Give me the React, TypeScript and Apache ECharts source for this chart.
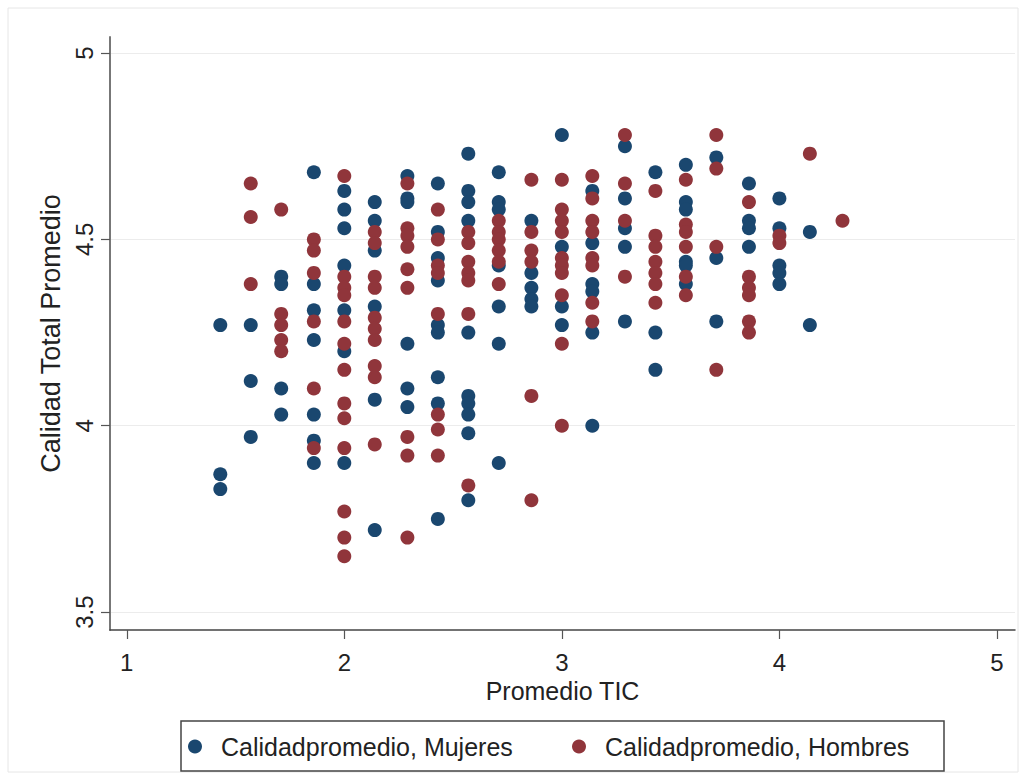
import React, { useEffect, useRef } from "react";
import * as echarts from "echarts";

// Promedio TIC levels (x positions of the columns)
const xLevels = [1.43, 1.57, 1.71, 1.86, 2, 2.14, 2.29, 2.43, 2.57, 2.71, 2.86, 3, 3.14, 3.29, 3.43, 3.57, 3.71, 3.86, 4, 4.14, 4.29];

// Calidad Total Promedio values per x level — Mujeres
const mujeresY: number[][] = [
  [4.27, 3.87, 3.83],
  [4.27, 4.12, 3.97],
  [4.4, 4.38, 4.1, 4.03],
  [4.68, 4.38, 4.31, 4.23, 4.03, 3.96, 3.9],
  [4.63, 4.58, 4.53, 4.43, 4.31, 4.2, 3.9],
  [4.6, 4.55, 4.47, 4.32, 4.07, 3.72],
  [4.67, 4.61, 4.6, 4.22, 4.1, 4.05],
  [4.65, 4.52, 4.45, 4.39, 4.27, 4.25, 4.13, 4.06, 3.75],
  [4.73, 4.63, 4.6, 4.55, 4.25, 4.08, 4.06, 4.03, 3.98, 3.8],
  [4.68, 4.6, 4.58, 4.43, 4.32, 4.22, 3.9],
  [4.55, 4.41, 4.37, 4.34, 4.32],
  [4.78, 4.48, 4.32, 4.27],
  [4.63, 4.49, 4.38, 4.36, 4.25, 4.0],
  [4.75, 4.61, 4.53, 4.48, 4.28],
  [4.68, 4.25, 4.15],
  [4.7, 4.6, 4.58, 4.44, 4.43, 4.38],
  [4.72, 4.45, 4.28],
  [4.65, 4.55, 4.53, 4.48],
  [4.61, 4.53, 4.43, 4.41, 4.38],
  [4.52, 4.27],
  [],
];

// Calidad Total Promedio values per x level — Hombres
const hombresY: number[][] = [
  [],
  [4.65, 4.56, 4.38],
  [4.58, 4.3, 4.27, 4.23, 4.2],
  [4.5, 4.47, 4.41, 4.28, 4.1, 3.94],
  [4.67, 4.4, 4.37, 4.35, 4.28, 4.22, 4.15, 4.06, 4.02, 3.94, 3.77, 3.7, 3.65],
  [4.52, 4.49, 4.4, 4.37, 4.29, 4.26, 4.23, 4.16, 4.13, 3.95],
  [4.65, 4.53, 4.51, 4.48, 4.42, 4.37, 3.97, 3.92, 3.7],
  [4.58, 4.5, 4.43, 4.41, 4.3, 4.03, 3.99, 3.92],
  [4.52, 4.49, 4.44, 4.41, 4.39, 4.3, 3.84],
  [4.55, 4.52, 4.5, 4.47, 4.44, 4.38],
  [4.66, 4.52, 4.47, 4.44, 4.08, 3.8],
  [4.66, 4.58, 4.55, 4.52, 4.45, 4.43, 4.41, 4.35, 4.22, 4.0],
  [4.67, 4.61, 4.55, 4.52, 4.45, 4.43, 4.33, 4.28],
  [4.78, 4.65, 4.55, 4.4],
  [4.63, 4.51, 4.48, 4.44, 4.41, 4.38, 4.33],
  [4.66, 4.54, 4.52, 4.48, 4.4, 4.35],
  [4.78, 4.69, 4.48, 4.15],
  [4.6, 4.4, 4.37, 4.35, 4.28, 4.25],
  [4.51, 4.49],
  [4.73],
  [4.55],
];

const xTicks = [1, 2, 3, 4, 5];
const yTicks = [3.5, 4, 4.5, 5];

const seriesNames = ["Calidadpromedio, Mujeres", "Calidadpromedio, Hombres"];
const NAVY = "#1a476f";
const MAROON = "#90353b";
const FONT = "'Liberation Sans', Arial, Helvetica, sans-serif";

function toPairs(levels: number[], ys: number[][]): [number, number][] {
  const out: [number, number][] = [];
  levels.forEach((x, i) => {
    (ys[i] || []).forEach((y) => out.push([x, y]));
  });
  return out;
}

export default function App() {
  const ref = useRef<HTMLDivElement>(null);

  useEffect(() => {
    if (!ref.current) return;
    const chart = echarts.init(ref.current, null, { renderer: "svg" });

    const legendCommon = {
      orient: "horizontal",
      icon: "circle",
      itemWidth: 14,
      itemHeight: 14,
      padding: 0,
      itemGap: 0,
      selectedMode: false,
      textStyle: {
        fontSize: 25,
        color: "#222",
        fontFamily: FONT,
        padding: [0, 0, 0, 14],
      },
    };

    const option: any = {
      animation: false,
      backgroundColor: "#ffffff",
      textStyle: { fontFamily: FONT },
      grid: { left: 110, right: 11, top: 37, bottom: 150, containLabel: false },
      xAxis: {
        type: "value",
        min: 0.923,
        max: 5.083,
        name: "Promedio TIC",
        nameLocation: "middle",
        nameGap: 48,
        nameTextStyle: { fontSize: 25, color: "#222", fontFamily: FONT },
        axisLine: { show: true, onZero: false, lineStyle: { color: "#444", width: 1.5 } },
        axisTick: { show: true, length: 9, customValues: xTicks, lineStyle: { color: "#555", width: 1.2 } },
        axisLabel: { customValues: xTicks, margin: 20, fontSize: 24, color: "#222", fontFamily: FONT },
        splitLine: { show: false },
      },
      yAxis: {
        type: "value",
        min: 3.452,
        max: 5.043,
        name: "Calidad Total Promedio",
        nameLocation: "middle",
        nameGap: 46,
        nameTextStyle: { fontSize: 27, color: "#222", fontFamily: FONT },
        axisLine: { show: true, onZero: false, lineStyle: { color: "#777", width: 2 } },
        axisTick: { show: true, length: 9, customValues: yTicks, lineStyle: { color: "#555", width: 1.2 } },
        axisLabel: { customValues: yTicks, rotate: 90, margin: 14, fontSize: 24, color: "#222", fontFamily: FONT },
        splitLine: { show: true, lineStyle: { color: "#ececec", width: 1 } },
      },
      legend: [
        { ...legendCommon, data: [seriesNames[0]], left: 188, top: 734 },
        { ...legendCommon, data: [seriesNames[1]], left: 572, top: 734 },
      ],
      graphic: [
        {
          type: "rect",
          z: -10,
          silent: true,
          shape: { x: 8, y: 8, width: 1010, height: 764 },
          style: { fill: "none", stroke: "#e6e6e6", lineWidth: 1 },
        },
        {
          type: "rect",
          z: -5,
          silent: true,
          shape: { x: 181, y: 721, width: 763, height: 50 },
          style: { fill: "none", stroke: "#444", lineWidth: 1.5 },
        },
      ],
      series: [
        {
          name: seriesNames[0],
          type: "scatter",
          symbol: "circle",
          symbolSize: 14,
          itemStyle: { color: NAVY, opacity: 1 },
          data: toPairs(xLevels, mujeresY),
        },
        {
          name: seriesNames[1],
          type: "scatter",
          symbol: "circle",
          symbolSize: 14,
          itemStyle: { color: MAROON, opacity: 1 },
          data: toPairs(xLevels, hombresY),
        },
      ],
    };

    chart.setOption(option);
    return () => chart.dispose();
  }, []);

  return (
    <div
      ref={ref}
      style={{ position: "absolute", left: 0, top: 0, width: 1026, height: 780, background: "#fff" }}
    />
  );
}
